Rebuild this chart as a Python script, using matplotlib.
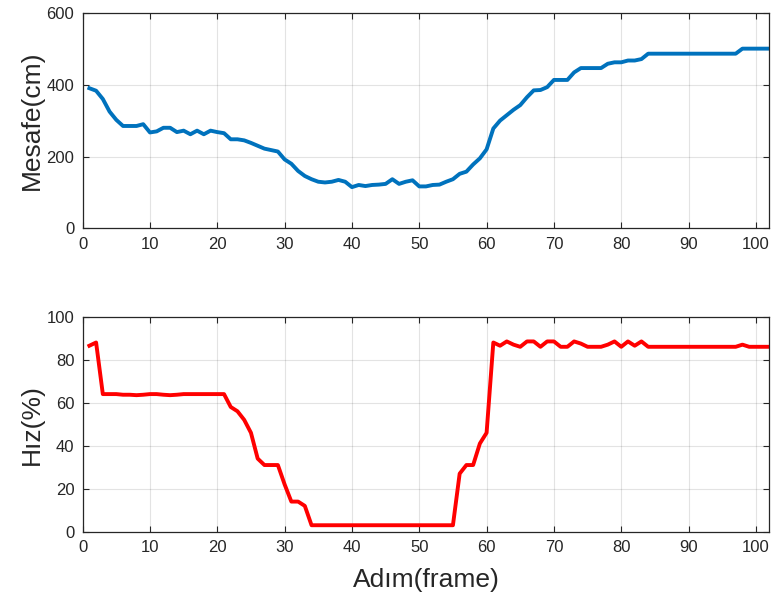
import matplotlib
matplotlib.use("Agg")
import matplotlib.pyplot as plt
import numpy as np

frames = list(range(1, 103))

mesafe = [390, 383, 360, 325, 302, 285, 285, 285, 290, 267,
          270, 280, 280, 268, 272, 262, 272, 262, 272, 268,
          265, 248, 248, 245, 238, 230, 222, 218, 214, 192,
          180, 160, 146, 137, 130, 128, 130, 135, 130, 115,
          121, 118, 121, 122, 124, 137, 124, 130, 134, 117,
          117, 121, 122, 130, 137, 152, 158, 178, 195, 220,
          278, 300, 315, 330, 343, 365, 384, 385, 393, 413,
          413, 413, 434, 446, 446, 446, 446, 458, 462, 462,
          467, 467, 471, 486, 486, 486, 486, 486, 486, 486,
          486, 486, 486, 486, 486, 486, 486, 500, 500, 500,
          500, 500]

hiz = [86.5, 88, 64, 64, 64, 63.7, 63.7, 63.5, 63.7, 64,
       64, 63.7, 63.5, 63.7, 64, 64, 64, 64, 64, 64,
       64, 58, 56, 52, 46, 34, 31, 31, 31, 22,
       14, 14, 12, 3, 3, 3, 3, 3, 3, 3,
       3, 3, 3, 3, 3, 3, 3, 3, 3, 3,
       3, 3, 3, 3, 3, 27, 31, 31, 41, 46,
       88, 86.5, 88.5, 87, 86, 88.5, 88.5, 86, 88.5, 88.5,
       86, 86, 88.5, 87.5, 86, 86, 86, 87, 88.5, 86,
       88.5, 86.5, 88.5, 86, 86, 86, 86, 86, 86, 86,
       86, 86, 86, 86, 86, 86, 86, 87, 86, 86,
       86, 86]

xticks = list(range(0, 101, 10))
yticks_top = [0, 200, 400, 600]
yticks_bot = [0, 20, 40, 60, 80, 100]

plt.rcParams['font.family'] = ['Liberation Sans', 'DejaVu Sans']
txt = '#262626'

fig = plt.figure(figsize=(7.73, 5.98), dpi=100)
ax1 = fig.add_axes([0.1069, 0.6179, 0.8884, 0.3609])
ax2 = fig.add_axes([0.1069, 0.1109, 0.8884, 0.3595])

ax1.plot(frames, mesafe, color='#0072BD', linewidth=2.8, solid_joinstyle='round')
ax2.plot(frames, hiz, color='#FF0000', linewidth=2.8, solid_joinstyle='round')

for ax, yt, yl in [(ax1, yticks_top, (0, 600)), (ax2, yticks_bot, (0, 100))]:
    ax.set_xlim(0, 102)
    ax.set_ylim(*yl)
    ax.set_xticks(xticks)
    ax.set_yticks(yt)
    ax.grid(True, color='#000000', alpha=0.11, linewidth=0.8)
    ax.set_axisbelow(True)
    ax.tick_params(direction='in', top=True, right=True, length=4, width=0.8,
                   colors=txt, labelsize=12, pad=6)
    for s in ax.spines.values():
        s.set_color(txt)
        s.set_linewidth(0.9)

ax1.set_ylabel('Mesafe(cm)', fontsize=19, color=txt, labelpad=2)
ax2.set_ylabel('Hız(%)', fontsize=19, color=txt, labelpad=2)
ax2.set_xlabel('Adım(frame)', fontsize=19, color=txt, labelpad=9)

fig.savefig('out.png', dpi=100)
